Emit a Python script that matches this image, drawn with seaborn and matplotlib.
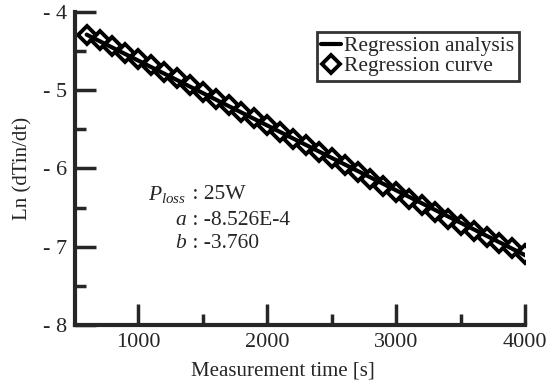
import numpy as np
import pandas as pd
import matplotlib
matplotlib.use("Agg")
import matplotlib.pyplot as plt
import seaborn as sns

# measured points (diamonds)
time_s = [600, 700, 800, 900, 1000, 1100, 1200, 1300, 1400, 1500, 1600, 1700,
          1800, 1900, 2000, 2100, 2200, 2300, 2400, 2500, 2600, 2700, 2800,
          2900, 3000, 3100, 3200, 3300, 3400, 3500, 3600, 3700, 3800, 3900, 4000]
ln_rate = [-4.29, -4.36, -4.44, -4.52, -4.60, -4.68, -4.77, -4.85, -4.94, -5.02,
           -5.11, -5.19, -5.28, -5.36, -5.45, -5.53, -5.62, -5.70, -5.79, -5.87,
           -5.96, -6.05, -6.13, -6.22, -6.30, -6.39, -6.47, -6.56, -6.64, -6.72,
           -6.80, -6.88, -6.95, -7.02, -7.09]

# regression line end points
fit_t = [600, 4000]
fit_y = [-4.29, -7.11]

sns.set_style("ticks")
plt.rcParams['font.family'] = ['Liberation Serif', 'DejaVu Serif']
plt.rcParams['mathtext.fontset'] = 'custom'
plt.rcParams['mathtext.rm'] = 'Liberation Serif'
plt.rcParams['mathtext.it'] = 'Liberation Serif:italic'

df = pd.DataFrame({'t': time_s, 'y': ln_rate})
df_fit = pd.DataFrame({'t': fit_t, 'y': fit_y})

fig = plt.figure(figsize=(5.6, 3.85), dpi=100)
ax = fig.add_axes([0.134, 0.156, 0.804, 0.813])

sns.lineplot(data=df_fit, x='t', y='y', ax=ax, color='black', linewidth=3,
             label='Regression analysis')
sns.lineplot(data=df, x='t', y='y', ax=ax, color='black', linestyle='',
             marker='D', markersize=13, markerfacecolor='none',
             markeredgecolor='black', markeredgewidth=2.8,
             label='Regression curve')

ax.set_xlim(510, 4000)
ax.set_ylim(-8, -4)
ax.set_xticks([1000, 2000, 3000, 4000])
ax.set_xticks([1500, 2500, 3500], minor=True)
ax.set_yticks([-8, -7, -6, -5, -4])
ax.set_yticks([-7.5, -6.5, -5.5, -4.5], minor=True)
ax.set_yticklabels(['- 8', '- 7', '- 6', '- 5', '- 4'])

for s in ['top', 'right']:
    ax.spines[s].set_visible(False)
for s in ['left', 'bottom']:
    ax.spines[s].set_linewidth(3)

ax.tick_params(which='major', direction='in', length=15, width=2.5,
               labelsize=16, pad=6)
ax.tick_params(which='minor', direction='in', length=8, width=2.5)

ax.set_xlabel('Measurement time [s]', fontsize=15)
ax.set_ylabel('Ln (dTin/dt)', fontsize=15)
ax.xaxis.set_label_coords(0.462, -0.118)
ax.yaxis.set_label_coords(-0.095, 0.5)

# legend with small handles
handles, labels = ax.get_legend_handles_labels()
handles[1].set_markersize(9)
leg = ax.legend(handles, labels, loc='upper right', bbox_to_anchor=(0.985, 0.936),
                fontsize=15.5, frameon=True, fancybox=False, handlelength=0.9,
                handletextpad=0.15, borderpad=0.2, labelspacing=0.0,
                borderaxespad=0.0)
leg.get_frame().set_edgecolor('black')
leg.get_frame().set_linewidth(2)

# fit parameters
tx = 1375
ax.text(tx, -6.33, r'$P_{loss}$', ha='right', va='center', fontsize=15.5)
ax.text(tx, -6.33, ' : 25W', ha='left', va='center', fontsize=15.5)
ax.text(tx, -6.67, r'$a$', ha='right', va='center', fontsize=15.5)
ax.text(tx, -6.67, ' : -8.526E-4', ha='left', va='center', fontsize=15.5)
ax.text(tx, -6.96, r'$b$', ha='right', va='center', fontsize=15.5)
ax.text(tx, -6.96, ' : -3.760', ha='left', va='center', fontsize=15.5)

fig.savefig('out.png', dpi=100)
